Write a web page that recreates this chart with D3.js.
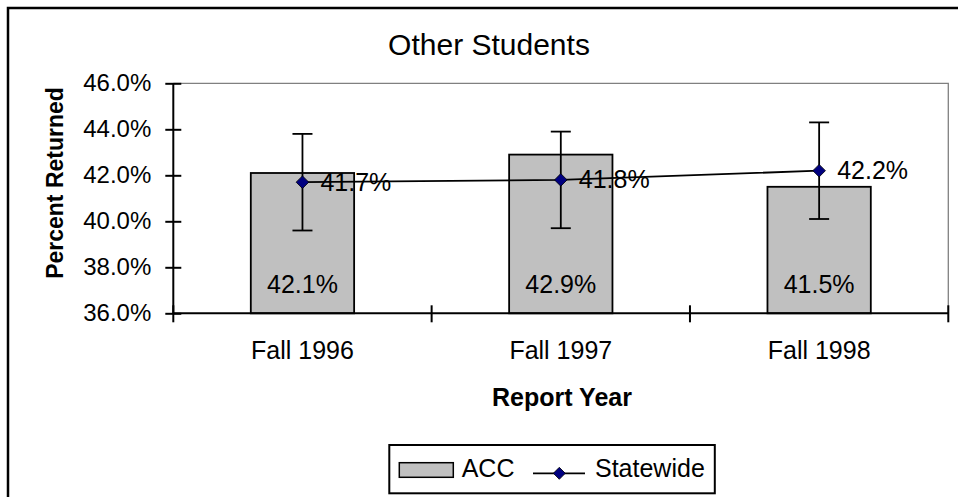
<!DOCTYPE html>
<html>
<head>
<meta charset="utf-8">
<script src="https://cdn.jsdelivr.net/npm/d3@7"></script>
<style>
  html, body { margin: 0; padding: 0; background: #fff; }
  svg { display: block; }
  text { font-family: "Liberation Sans", Arial, sans-serif; fill: #000; }
</style>
</head>
<body>
<svg id="chart" width="958" height="497"></svg>
<script>
const title = "Other Students";
const categories = ["Fall 1996", "Fall 1997", "Fall 1998"];
const accValues = [42.1, 42.9, 41.5];
const statewideValues = [41.7, 41.8, 42.2];
const errHigh = [43.8, 43.9, 44.3];
const errLow = [39.6, 39.7, 40.1];
const yTicks = [36, 38, 40, 42, 44, 46];
const yTitle = "Percent Returned";
const xTitle = "Report Year";
const seriesNames = ["ACC", "Statewide"];

const svg = d3.select("#chart");
const W = 958, H = 497;
const plot = { left: 173.3, right: 948.3, top: 83.3, bottom: 313.3 };
const fmt = d => d.toFixed(1) + "%";

// outer chart border
svg.append("rect").attr("x", 8).attr("y", 8).attr("width", W + 20).attr("height", H + 20)
  .attr("fill", "#fff").attr("stroke", "#000").attr("stroke-width", 2.5);

const x = d3.scaleBand().domain(categories).range([plot.left, plot.right]).paddingInner(0).paddingOuter(0);
const y = d3.scaleLinear().domain([36, 46]).range([plot.bottom, plot.top]);

// plot area frame (top & right, gray)
svg.append("path")
  .attr("d", `M${plot.left},${y(46)}H${plot.right}V${plot.bottom}`)
  .attr("fill", "none").attr("stroke", "#808080").attr("stroke-width", 1.3);

// bars
const barW = x.bandwidth() * 0.4;
svg.append("g").selectAll("rect").data(categories).join("rect")
  .attr("x", (d) => x(d) + x.bandwidth() / 2 - barW / 2)
  .attr("y", (d, i) => y(accValues[i]))
  .attr("width", barW)
  .attr("height", (d, i) => y(36) - y(accValues[i]))
  .attr("fill", "#c0c0c0").attr("stroke", "#000").attr("stroke-width", 1.8);

// bar labels
svg.append("g").selectAll("text").data(categories).join("text")
  .attr("x", d => x(d) + x.bandwidth() / 2)
  .attr("y", plot.bottom - 20)
  .attr("text-anchor", "middle")
  .attr("font-size", 25)
  .text((d, i) => fmt(accValues[i]));

// y axis
const yAxis = d3.axisLeft(y).tickValues(yTicks).tickFormat(fmt).tickSize(8).tickPadding(14);
const gy = svg.append("g").attr("transform", `translate(${plot.left},0)`).call(yAxis);
gy.select(".domain").attr("stroke", "#000").attr("stroke-width", 2).attr("d", `M0,${plot.top}V${plot.bottom}`);
gy.selectAll(".tick line").attr("x1", 8).attr("x2", -8).attr("stroke", "#000").attr("stroke-width", 2);
gy.selectAll(".tick text").attr("font-size", 24).attr("font-family", '"Liberation Sans", Arial, sans-serif').attr("fill", "#000").attr("x", -22);

// x axis (labels at centers, ticks at boundaries)
const xAxis = d3.axisBottom(x).tickSize(0).tickPadding(28);
const gx = svg.append("g").attr("transform", `translate(0,${plot.bottom})`).call(xAxis);
gx.select(".domain").attr("stroke", "#000").attr("stroke-width", 2).attr("d", `M${plot.left},0H${plot.right}`);
gx.selectAll(".tick text").attr("font-size", 25).attr("font-family", '"Liberation Sans", Arial, sans-serif').attr("fill", "#000");
const bounds = d3.range(categories.length + 1).map(i => plot.left + i * x.step());
gx.append("g").selectAll("line").data(bounds).join("line")
  .attr("x1", d => d).attr("x2", d => d).attr("y1", -8).attr("y2", 9)
  .attr("stroke", "#000").attr("stroke-width", 2);

// error bars
const cx = d => x(d) + x.bandwidth() / 2;
const eg = svg.append("g").attr("stroke", "#000").attr("stroke-width", 1.8);
categories.forEach((c, i) => {
  eg.append("line").attr("x1", cx(c)).attr("x2", cx(c)).attr("y1", y(errLow[i])).attr("y2", y(errHigh[i]));
  eg.append("line").attr("x1", cx(c) - 10).attr("x2", cx(c) + 10).attr("y1", y(errLow[i])).attr("y2", y(errLow[i]));
  eg.append("line").attr("x1", cx(c) - 10).attr("x2", cx(c) + 10).attr("y1", y(errHigh[i])).attr("y2", y(errHigh[i]));
});

// statewide line
const line = d3.line().x((d, i) => cx(categories[i])).y(d => y(d));
svg.append("path").datum(statewideValues).attr("d", line)
  .attr("fill", "none").attr("stroke", "#000").attr("stroke-width", 1.8);

const diamond = (s) => `M0,${-s}L${s},0L0,${s}L${-s},0Z`;
svg.append("g").selectAll("path").data(statewideValues).join("path")
  .attr("transform", (d, i) => `translate(${cx(categories[i])},${y(d)})`)
  .attr("d", diamond(6.3))
  .attr("fill", "#000080").attr("stroke", "#000").attr("stroke-width", 0.8);

svg.append("g").selectAll("text").data(statewideValues).join("text")
  .attr("x", (d, i) => cx(categories[i]) + 18)
  .attr("y", d => y(d) + 8.5)
  .attr("font-size", 25)
  .text(d => fmt(d));

// title
svg.append("text").attr("x", 489).attr("y", 55).attr("text-anchor", "middle")
  .attr("font-size", 30).text(title);

// axis titles
svg.append("text").attr("transform", `translate(63,183) rotate(-90)`)
  .attr("text-anchor", "middle").attr("font-size", 23).attr("font-weight", "bold").text(yTitle);
svg.append("text").attr("x", 562).attr("y", 406).attr("text-anchor", "middle")
  .attr("font-size", 25).attr("font-weight", "bold").text(xTitle);

// legend
const lg = svg.append("g");
const lgBox = lg.append("rect").attr("x", 389.3).attr("y", 445).attr("height", 48.3)
  .attr("fill", "#fff").attr("stroke", "#000").attr("stroke-width", 2);
lg.append("rect").attr("x", 399.3).attr("y", 462.7).attr("width", 54).attr("height", 14.6)
  .attr("fill", "#c0c0c0").attr("stroke", "#000").attr("stroke-width", 1.5);
lg.append("text").attr("x", 461.7).attr("y", 476.5).attr("font-size", 25).text(seriesNames[0]);
lg.append("line").attr("x1", 533).attr("x2", 585).attr("y1", 473.3).attr("y2", 473.3)
  .attr("stroke", "#000").attr("stroke-width", 1.8);
lg.append("path").attr("transform", "translate(559.3,473.3)").attr("d", diamond(6))
  .attr("fill", "#000080").attr("stroke", "#000").attr("stroke-width", 0.8);
const stText = lg.append("text").attr("x", 595).attr("y", 476.5).attr("font-size", 25).text(seriesNames[1]);
const bb = stText.node().getBBox();
lgBox.attr("width", bb.x + bb.width + 10 - 389.3);
</script>
</body>
</html>
